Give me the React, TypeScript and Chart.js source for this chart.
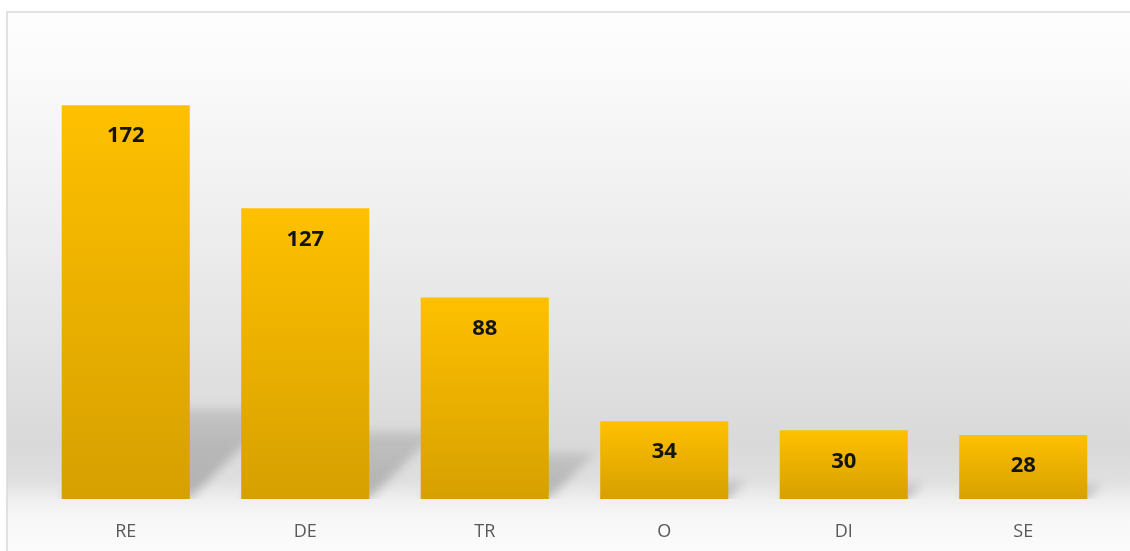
import React, { useEffect, useRef } from "react";
import { Chart, registerables } from "chart.js";

Chart.register(...registerables);

const categories: string[] = ["RE", "DE", "TR", "O", "DI", "SE"];
const values: number[] = [172, 127, 88, 34, 30, 28];
const yMin = 0;
const yMax = 190;

const W = 1130;
const H = 551;

const backgroundPlugin = {
  id: "bgPlugin",
  beforeDraw(chart: any) {
    const ctx = chart.ctx;
    const x0 = 7;
    const y0 = 12;
    ctx.save();
    const g = ctx.createLinearGradient(0, y0, 0, H);
    g.addColorStop(0, "#fefefe");
    g.addColorStop(0.09, "#fbfbfb");
    g.addColorStop(0.35, "#f0f0f0");
    g.addColorStop(0.6, "#e4e4e4");
    g.addColorStop(0.8, "#d9d9d9");
    g.addColorStop(0.868, "#dfdfdf");
    g.addColorStop(0.905, "#efefef");
    g.addColorStop(0.945, "#f8f8f8");
    g.addColorStop(1, "#fbfbfb");
    ctx.fillStyle = g;
    ctx.fillRect(x0, y0, W - x0, H - y0);
    ctx.strokeStyle = "#d9d9d9";
    ctx.lineWidth = 1.5;
    ctx.beginPath();
    ctx.moveTo(x0, H);
    ctx.lineTo(x0, y0);
    ctx.lineTo(W, y0);
    ctx.stroke();
    ctx.restore();
  },
};

const shadowPlugin = {
  id: "shadowPlugin",
  beforeDatasetsDraw(chart: any) {
    const ctx = chart.ctx;
    const meta = chart.getDatasetMeta(0);
    ctx.save();
    const base0 = chart.scales.y.getPixelForValue(0);
    ctx.beginPath();
    ctx.rect(0, 0, W, base0);
    ctx.clip();
    meta.data.forEach((el: any) => {
      const { x, y, base, width } = el.getProps(["x", "y", "base", "width"], true);
      if (![x, y, base, width].every((v) => Number.isFinite(v))) return;
      const L = x - width / 2;
      const R = x + width / 2;
      const h = base - y;
      const d = 0.23 * h;
      const g = ctx.createLinearGradient(0, base, 0, base - d);
      g.addColorStop(0, "rgba(0,0,0,0.22)");
      g.addColorStop(1, "rgba(0,0,0,0.1)");
      ctx.filter = "blur(5px)";
      ctx.fillStyle = g;
      ctx.beginPath();
      ctx.moveTo(L, base);
      ctx.lineTo(R, base);
      ctx.lineTo(R + d, base - d);
      ctx.lineTo(L + d, base - d);
      ctx.closePath();
      ctx.fill();
    });
    ctx.restore();
  },
};

const labelPlugin = {
  id: "labelPlugin",
  afterDatasetsDraw(chart: any) {
    const ctx = chart.ctx;
    const meta = chart.getDatasetMeta(0);
    ctx.save();
    ctx.font = "bold 22px 'Open Sans', sans-serif";
    ctx.fillStyle = "#141414";
    ctx.textAlign = "center";
    ctx.textBaseline = "middle";
    meta.data.forEach((el: any, i: number) => {
      const { x, y } = el.getProps(["x", "y"], true);
      ctx.fillText(String(values[i]), x, y + 31);
    });
    ctx.restore();
  },
};

export default function App() {
  const canvasRef = useRef<HTMLCanvasElement | null>(null);

  useEffect(() => {
    if (!canvasRef.current) return;
    const chart = new Chart(canvasRef.current, {
      type: "bar",
      data: {
        labels: categories,
        datasets: [
          {
            data: values,
            backgroundColor: (c: any) => {
              const ch = c.chart;
              const ys = ch.scales && ch.scales.y;
              if (!ys || typeof c.raw !== "number") return "#f0b400";
              const top = ys.getPixelForValue(c.raw);
              const bottom = ys.getPixelForValue(0);
              if (!Number.isFinite(top) || !Number.isFinite(bottom) || top === bottom) return "#f0b400";
              const g = ch.ctx.createLinearGradient(0, top, 0, bottom);
              g.addColorStop(0, "#ffc000");
              g.addColorStop(1, "#d6a000");
              return g;
            },
            borderWidth: 0,
            categoryPercentage: 1,
            barPercentage: 0.7135,
          },
        ],
      },
      options: {
        animation: false,
        responsive: true,
        maintainAspectRatio: false,
        layout: { padding: { left: 36, right: 17, top: 64, bottom: 0 } },
        plugins: {
          legend: { display: false },
          tooltip: { enabled: false },
          title: { display: false },
        },
        scales: {
          x: {
            grid: { display: false, drawTicks: false },
            border: { display: false },
            ticks: {
              color: "#595959",
              font: { family: "'Open Sans', sans-serif", size: 18 },
              padding: 22,
            },
            afterFit: (s: any) => {
              s.height = 52;
            },
          },
          y: {
            display: false,
            min: yMin,
            max: yMax,
          },
        },
      },
      plugins: [backgroundPlugin, shadowPlugin, labelPlugin],
    });
    return () => chart.destroy();
  }, []);

  return (
    <div style={{ position: "fixed", left: 0, top: 0, width: W, height: H, background: "#ffffff" }}>
      <canvas ref={canvasRef} />
    </div>
  );
}
